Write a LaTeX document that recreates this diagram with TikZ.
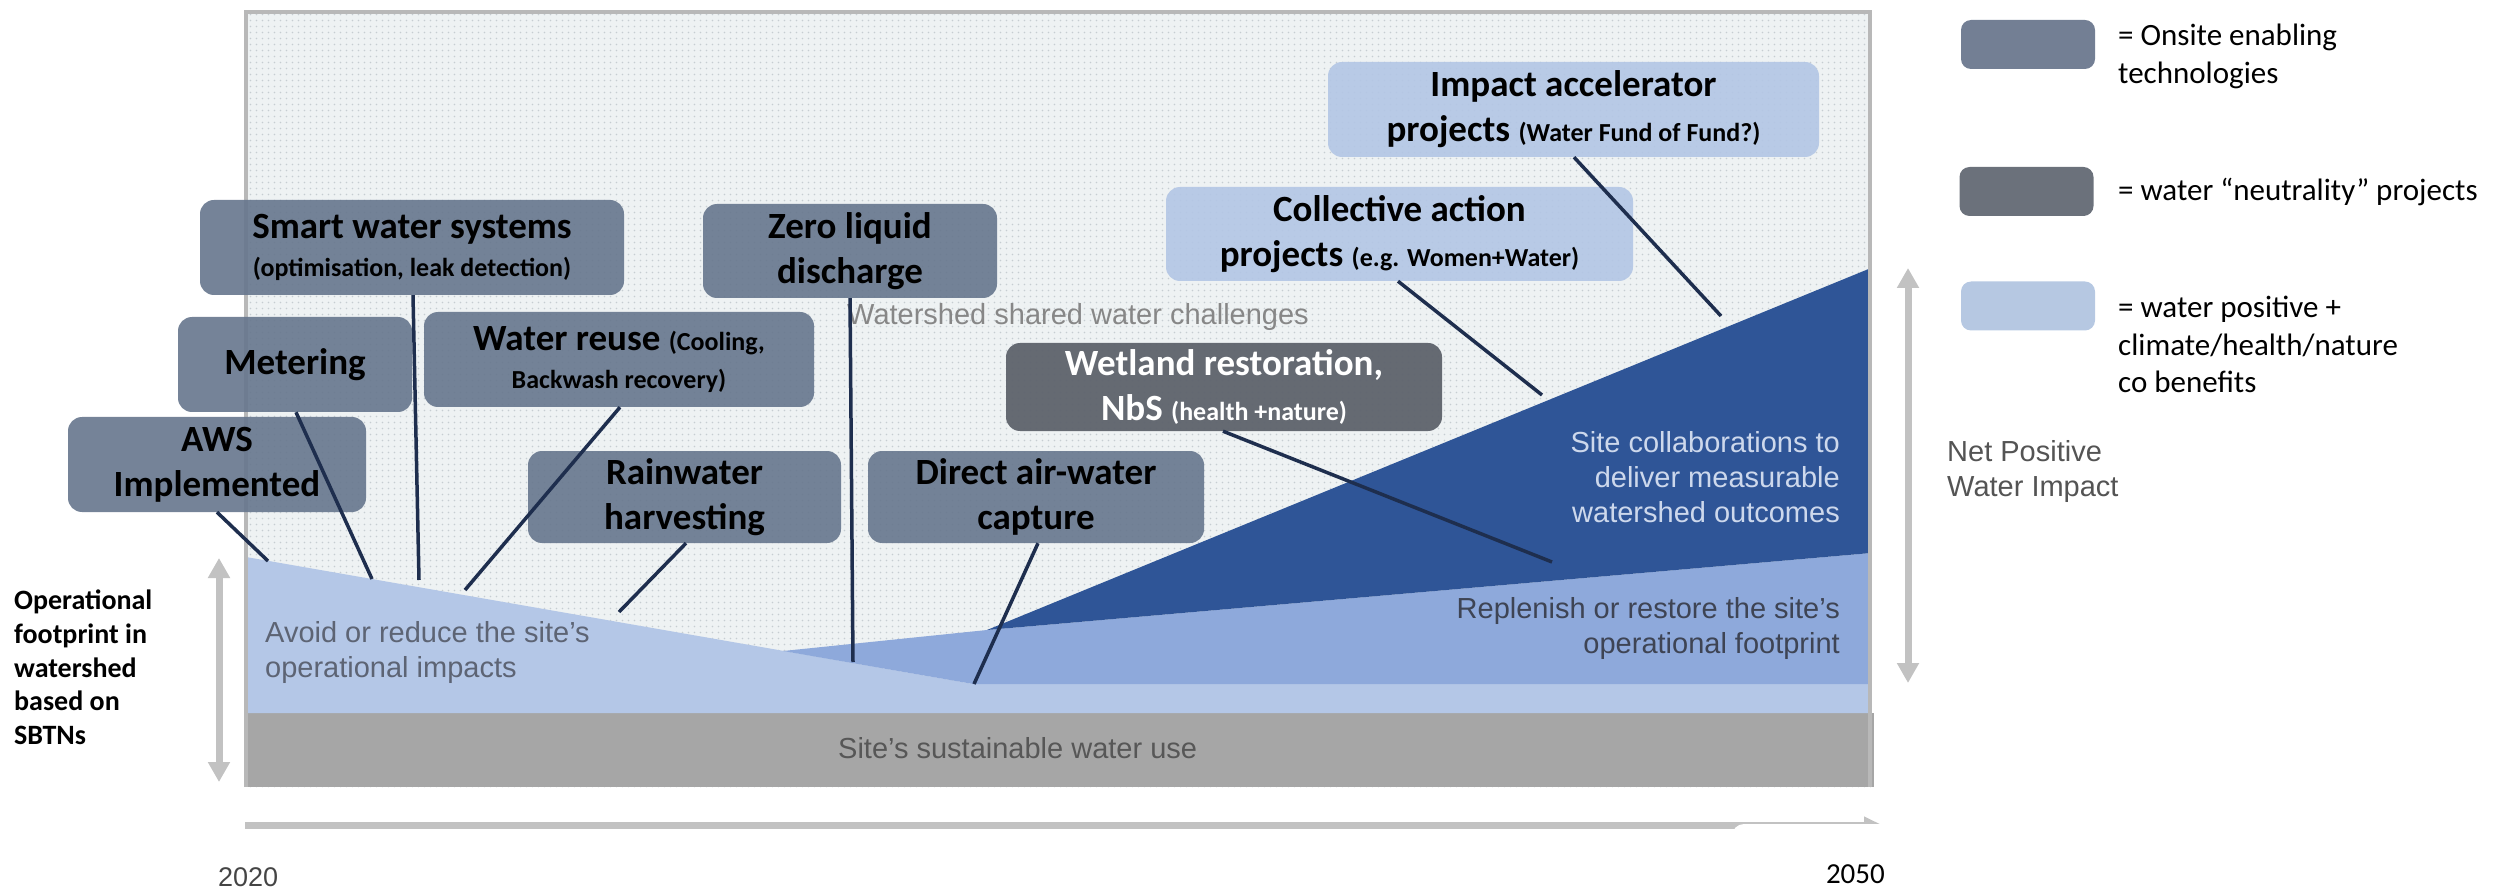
\documentclass[tikz,border=0pt]{standalone}
\usepackage{fontspec}
\setmainfont{Carlito}
\newfontfamily\chartfont{Liberation Sans}
\usetikzlibrary{arrows.meta,patterns.meta}

\definecolor{onsite}{HTML}{66768D}
\definecolor{neutral}{HTML}{5E636C}
\definecolor{positive}{HTML}{B3C6E5}
\definecolor{legon}{HTML}{737F94}
\definecolor{legneu}{HTML}{6B717B}
\definecolor{legpos}{HTML}{B6C8E2}
\definecolor{darkblue}{HTML}{2F5597}
\definecolor{midblue}{HTML}{8EA9DB}
\definecolor{lightblue}{HTML}{B4C7E7}
\definecolor{bandgray}{HTML}{A6A6A6}
\definecolor{framebg}{HTML}{EEF2F3}
\definecolor{dotc}{HTML}{C6CDD1}
\definecolor{framegray}{HTML}{B8B8B8}
\definecolor{arrowgray}{HTML}{C2C2C2}
\definecolor{conn}{HTML}{1E2E4E}

\newcommand{\bigf}{\fontsize{37}{45}\selectfont}
\newcommand{\smf}{\fontsize{26}{30}\selectfont}

\tikzdeclarepattern{
  name=softdots,
  type=uncolored,
  bounding box={(0pt,0pt) and (5.5pt,5.5pt)},
  tile size={(5.5pt,5.5pt)},
  code={\pgfpathcircle{\pgfqpoint{2.75pt}{2.75pt}}{0.9pt}\pgfusepath{fill}}
}

\tikzset{
  box/.style={rounded corners=14pt, align=center, inner sep=0pt, font=\bfseries\bigf, text opacity=1},
  onsitebox/.style={box, fill=onsite, fill opacity=0.9, text=black},
  neutralbox/.style={box, fill=neutral, fill opacity=0.95, text=white},
  posbox/.style={box, fill=positive, fill opacity=0.9, text=black},
  conline/.style={draw=conn, line width=3.5pt},
  charttext/.style={font=\chartfont\fontsize{29}{35}\selectfont, inner sep=0pt},
  legbox/.style={rounded corners=10pt, minimum width=134pt, minimum height=49pt, inner sep=0pt},
  legtext/.style={font=\fontsize{31}{37.5}\selectfont, align=left, anchor=west, inner sep=0pt},
  grayarrow/.style={draw=arrowgray, line width=7pt, {Triangle[width=21pt,length=20pt]}-{Triangle[width=21pt,length=20pt]}},
}

\begin{document}
\begin{tikzpicture}[x=1pt,y=-1pt]
\useasboundingbox (0,0) rectangle (2506,890);

% frame background
\fill[framebg] (246,12) rectangle (1871,787);
\fill[pattern=softdots, pattern color=dotc] (246,12) rectangle (1871,787);

% bands
\fill[bandgray] (244,713) rectangle (1874,787);
\fill[lightblue] (246,557) -- (973,684) -- (1871,684) -- (1871,713) -- (246,713) -- cycle;
\fill[midblue] (783,651) -- (987,630) -- (1871,553) -- (1871,684) -- (973,684) -- cycle;
\fill[darkblue] (987,630) -- (1871,268) -- (1871,553) -- cycle;

% frame border
\draw[framegray, line width=4pt] (246,787) -- (246,12) -- (1870,12) -- (1870,787);

% chart texts
\node[charttext, anchor=west, text=black!47] (shared) at (847,317) {Watershed shared water challenges};
\node[charttext, anchor=west, align=left, text={rgb,255:red,93;green,100;blue,116}] (avoid) at (265,652.5) {Avoid or reduce the site’s\\operational impacts};
\node[charttext, anchor=west, text=black!66] (sususe) at (838,748) {Site’s sustainable water use};
\node[charttext, anchor=east, align=right, text={rgb,255:red,205;green,216;blue,236}] (collab) at (1840,477.5) {Site collaborations to\\deliver measurable\\watershed outcomes};
\node[charttext, anchor=east, align=right, text={rgb,255:red,62;green,68;blue,84}] (replen) at (1840,628.5) {Replenish or restore the site’s\\operational footprint};
\node[charttext, anchor=west, align=left, text=black!67] (netpos) at (1947,472) {Net Positive\\Water Impact};

% side arrows
\coordinate (lt) at (219,558);
\coordinate (lb) at (219,782);
\draw[grayarrow] (lt) -- (lb);
\coordinate (rt) at (1908,268);
\coordinate (rb) at (1908,683);
\draw[grayarrow] (rt) -- (rb);

% time axis
\coordinate (ax0) at (245,825);
\coordinate (ax1) at (1882,825);
\draw[arrowgray, line width=7pt, -{Triangle[width=16pt,length=18pt]}] (ax0) -- (ax1);
\fill[white, rounded corners=12pt] (1732,824) rectangle (1995,905);
\node[charttext, anchor=west, text=black!73, font=\chartfont\fontsize{27}{32}\selectfont] (y2020) at (218,877) {2020};
\node[anchor=east, inner sep=0pt, font=\fontsize{29}{34}\selectfont] (y2050) at (1885,874) {2050};

% left label
\node[font=\bfseries\fontsize{28}{33.75}\selectfont, align=left, anchor=west, inner sep=0pt] (opfoot) at (14,667.5) {Operational\\footprint in\\watershed\\based on\\SBTNs};

% boxes
\node[onsitebox, minimum width=298pt, minimum height=95pt] (aws) at (217,464.5) {AWS\\Implemented};
\node[onsitebox, minimum width=234pt, minimum height=95pt] (met) at (295,364.5) {Metering};
\node[onsitebox, minimum width=424pt, minimum height=95pt] (smart) at (412,247.5) {Smart water systems\\[-7pt]{\smf (optimisation, leak detection)}};
\node[onsitebox, minimum width=390pt, minimum height=95pt] (reuse) at (619,359.5) {Water reuse {\smf (Cooling,}\\[-7pt]{\smf Backwash recovery)}};
\node[onsitebox, minimum width=294pt, minimum height=94pt] (zld) at (850,251) {Zero liquid\\discharge};
\node[onsitebox, minimum width=313pt, minimum height=92pt] (rain) at (684.5,497) {Rainwater\\harvesting};
\node[onsitebox, minimum width=336pt, minimum height=92pt] (dawc) at (1036,497) {Direct air-water\\capture};
\node[neutralbox, minimum width=436pt, minimum height=88pt] (wet) at (1224,387) {Wetland restoration,\\NbS {\smf (health +nature)}};
\node[posbox, minimum width=467pt, minimum height=94pt] (coll) at (1399.5,234) {Collective action\\projects {\smf (e.g. Women+Water)}};
\node[posbox, minimum width=491pt, minimum height=95pt] (imp) at (1573.5,109.5) {Impact accelerator\\projects {\smf (Water Fund of Fund?)}};

% connector ends
\coordinate (caws) at (268,561);
\coordinate (cmet) at (372,579);
\coordinate (csmart) at (419,580);
\coordinate (creuse) at (465,590);
\coordinate (czld) at (853,662);
\coordinate (crain) at (619,612);
\coordinate (cdawc) at (974,684);
\coordinate (cwet) at (1552,562);
\coordinate (ccoll) at (1542,395);
\coordinate (cimp) at (1721,316);

\draw[conline] (aws.south) -- (caws);
\draw[conline] ([xshift=1pt]met.south) -- (cmet);
\draw[conline] ([xshift=1pt]smart.south) -- (csmart);
\draw[conline] ([xshift=1pt]reuse.south) -- (creuse);
\draw[conline] (zld.south) -- (czld);
\draw[conline] ([xshift=1.5pt]rain.south) -- (crain);
\draw[conline] ([xshift=2pt]dawc.south) -- (cdawc);
\draw[conline] ([xshift=-1pt]wet.south) -- (cwet);
\draw[conline] ([xshift=-1.5pt]coll.south) -- (ccoll);
\draw[conline] ([xshift=0.5pt]imp.south) -- (cimp);

% legend
\node[legbox, fill=legon] (leg1) at (2028,44.5) {};
\node[legbox, fill=legneu] (leg2) at (2026.5,191.5) {};
\node[legbox, fill=legpos] (leg3) at (2028,306) {};
\node[legtext] (leg1t) at (2118,56.5) {= Onsite enabling\\technologies};
\node[legtext] (leg2t) at (2118,192) {= water “neutrality” projects};
\node[legtext] (leg3t) at (2118,344.5) {= water positive +\\climate/health/nature\\co benefits};
\end{tikzpicture}
\end{document}
